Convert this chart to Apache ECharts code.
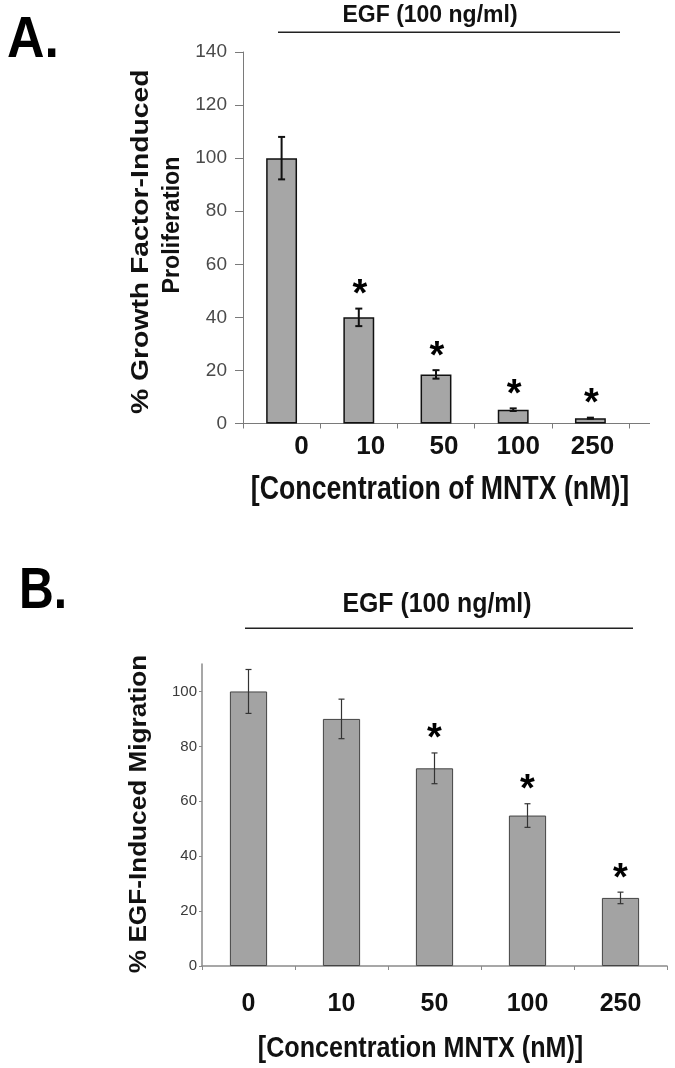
<!DOCTYPE html>
<html>
<head>
<meta charset="utf-8">
<script src="https://cdn.jsdelivr.net/npm/echarts@6/dist/echarts.min.js"></script>
<style>
html,body{margin:0;padding:0;background:#fff;}
#chart{width:675px;height:1068px;}
</style>
</head>
<body>
<div id="chart"></div>
<script>
// ---- data ----
const categories = ['0', '10', '50', '100', '250'];
// Panel A: % Growth Factor-Induced Proliferation
const valuesA = [100, 40, 18.5, 5.2, 2.0];
const errorsA = [8, 3.3, 1.6, 0.5, 0.2];
const significantA = [false, true, true, true, true];
const yTicksA = [0, 20, 40, 60, 80, 100, 120, 140];
// Panel B: % EGF-Induced Migration
const valuesB = [100, 90, 72, 54.8, 24.8];
const errorsB = [8, 7.2, 5.6, 4.3, 2.1];
const significantB = [false, false, true, true, true];
const yTicksB = [0, 20, 40, 60, 80, 100];

// ---- text ----
const panelA = 'A.';
const panelB = 'B.';
const treatment = 'EGF (100 ng/ml)';
const yTitleA1 = '% Growth Factor-Induced';
const yTitleA2 = 'Proliferation';
const xTitleA = '[Concentration of MNTX (nM)]';
const yTitleB = '% EGF-Induced Migration';
const xTitleB = '[Concentration MNTX (nM)]';

// ---- style ----
const SANS = "'Liberation Sans', Arial, sans-serif";
const labelShiftA = [20, 12, 8, 5, 2];

const chart = echarts.init(document.getElementById('chart'), null, {renderer: 'canvas'});

function errSeries(gridIdx, values, errors, sig, opt) {
  return {
    type: 'custom',
    xAxisIndex: gridIdx, yAxisIndex: gridIdx,
    data: values.map((v, i) => [i, v, errors[i], sig[i] ? 1 : 0]),
    z: 5,
    renderItem: function (params, api) {
      const i = api.value(0), v = api.value(1), e = api.value(2), s = api.value(3);
      const top = api.coord([i, v + e]);
      const bot = api.coord([i, v - e]);
      const x = top[0];
      const st = {stroke: opt.color, lineWidth: opt.width};
      const children = [
        {type: 'line', shape: {x1: x, y1: top[1], x2: x, y2: bot[1]}, style: st},
        {type: 'line', shape: {x1: x - opt.cap, y1: top[1], x2: x + opt.cap, y2: top[1]}, style: st},
        {type: 'line', shape: {x1: x - opt.cap, y1: bot[1], x2: x + opt.cap, y2: bot[1]}, style: st}
      ];
      if (s) {
        children.push({
          type: 'text',
          x: x + opt.starDx, y: top[1] - opt.starGap + opt.starAdj,
          style: {text: '*', font: 'bold ' + opt.starSize + 'px ' + SANS, fill: '#000',
                  textAlign: 'center', textVerticalAlign: 'middle'}
        });
      }
      return {type: 'group', children: children};
    }
  };
}

const option = {
  animation: false,
  backgroundColor: '#fff',
  grid: [
    {left: 243, top: 52, width: 386, height: 371.5, containLabel: false, outerBoundsMode: 'none'},
    {left: 202, top: 664, width: 465, height: 302, containLabel: false, outerBoundsMode: 'none'}
  ],
  xAxis: [
    {
      type: 'category', gridIndex: 0,
      data: categories.map((c, i) => ({value: c, textStyle: {padding: [0, 0, 0, 2 * labelShiftA[i]]}})),
      axisLine: {lineStyle: {color: '#7a7a7a', width: 1}},
      axisTick: {show: true, alignWithLabel: false, length: 5, lineStyle: {color: '#7a7a7a'}},
      axisLabel: {margin: 10, fontFamily: SANS, fontWeight: 'bold', fontSize: 26, color: '#111'}
    },
    {
      type: 'category', gridIndex: 1, data: categories,
      axisLine: {lineStyle: {color: '#8a8a8a', width: 1.5}},
      axisTick: {show: true, length: 4, lineStyle: {color: '#8a8a8a'}},
      axisLabel: {margin: 26, fontFamily: SANS, fontWeight: 'bold', fontSize: 25, color: '#111'}
    }
  ],
  yAxis: [
    {
      type: 'value', gridIndex: 0, min: 0, max: 140, interval: 20,
      axisLine: {show: true, lineStyle: {color: '#7a7a7a', width: 1}},
      axisTick: {show: true, length: 8, lineStyle: {color: '#7a7a7a'}},
      splitLine: {show: false},
      axisLabel: {margin: 16, fontFamily: SANS, fontSize: 19, color: '#4a4a4a',
                  customValues: yTicksA}
    },
    {
      type: 'value', gridIndex: 1, min: 0, max: 110, interval: 20,
      axisLine: {show: true, lineStyle: {color: '#8a8a8a', width: 1.5}},
      axisTick: {show: true, length: 3, lineStyle: {color: '#8a8a8a'}, customValues: yTicksB},
      splitLine: {show: false},
      axisLabel: {margin: 5, fontFamily: SANS, fontSize: 15, color: '#3a3a3a',
                  customValues: yTicksB,
                  formatter: v => (v > 100 ? '' : String(v))}
    }
  ],
  series: [
    {
      type: 'bar', xAxisIndex: 0, yAxisIndex: 0, data: valuesA, barWidth: '40%',
      itemStyle: {color: '#a6a6a6', borderColor: '#111', borderWidth: 1.5}
    },
    errSeries(0, valuesA, errorsA, significantA,
      {color: '#111', width: 2, cap: 3.5, starGap: 21, starAdj: 8, starDx: 1, starSize: 38}),
    {
      type: 'bar', xAxisIndex: 1, yAxisIndex: 1, data: valuesB, barWidth: '40%',
      itemStyle: {color: '#a3a3a3', borderColor: '#444', borderWidth: 1}
    },
    errSeries(1, valuesB, errorsB, significantB,
      {color: '#333', width: 1.2, cap: 3, starGap: 21, starAdj: 8, starDx: 0, starSize: 38})
  ],
  graphic: [
    // panel letters
    {type: 'text', x: 33, y: 41, scaleX: 0.91,
     style: {text: panelA, font: 'bold 57px ' + SANS, fill: '#000', textAlign: 'center', textVerticalAlign: 'middle'}},
    {type: 'text', x: 43, y: 592, scaleX: 0.83,
     style: {text: panelB, font: 'bold 58px ' + SANS, fill: '#000', textAlign: 'center', textVerticalAlign: 'middle'}},
    // treatment labels and bars
    {type: 'text', x: 430, y: 15.5,
     style: {text: treatment, font: 'bold 23px ' + SANS, fill: '#111', textAlign: 'center', textVerticalAlign: 'middle'}},
    {type: 'line', shape: {x1: 278, y1: 32.3, x2: 620, y2: 32.3}, style: {stroke: '#222', lineWidth: 1.5}},
    {type: 'text', x: 437, y: 605, scaleX: 0.92,
     style: {text: treatment, font: 'bold 27px ' + SANS, fill: '#111', textAlign: 'center', textVerticalAlign: 'middle'}},
    {type: 'line', shape: {x1: 245, y1: 628.3, x2: 633, y2: 628.3}, style: {stroke: '#222', lineWidth: 1.5}},
    // x axis extension panel A
    {type: 'line', shape: {x1: 629, y1: 423.5, x2: 650, y2: 423.5}, style: {stroke: '#7a7a7a', lineWidth: 1}},
    // axis titles
    {type: 'text', x: 141.7, y: 241.7, rotation: Math.PI / 2, scaleX: 1.18,
     style: {text: yTitleA1, font: 'bold 24px ' + SANS, fill: '#111', textAlign: 'center', textVerticalAlign: 'middle'}},
    {type: 'text', x: 172.5, y: 225, rotation: Math.PI / 2, scaleX: 0.97,
     style: {text: yTitleA2, font: 'bold 24px ' + SANS, fill: '#111', textAlign: 'center', textVerticalAlign: 'middle'}},
    {type: 'text', x: 440, y: 490, scaleX: 0.82,
     style: {text: xTitleA, font: 'bold 32.6px ' + SANS, fill: '#111', textAlign: 'center', textVerticalAlign: 'middle'}},
    {type: 'text', x: 139, y: 814, rotation: Math.PI / 2, scaleX: 1.09,
     style: {text: yTitleB, font: 'bold 24px ' + SANS, fill: '#111', textAlign: 'center', textVerticalAlign: 'middle'}},
    {type: 'text', x: 420.5, y: 1049, scaleX: 0.83,
     style: {text: xTitleB, font: 'bold 30.3px ' + SANS, fill: '#111', textAlign: 'center', textVerticalAlign: 'middle'}}
  ]
};
chart.setOption(option);
</script>
</body>
</html>
